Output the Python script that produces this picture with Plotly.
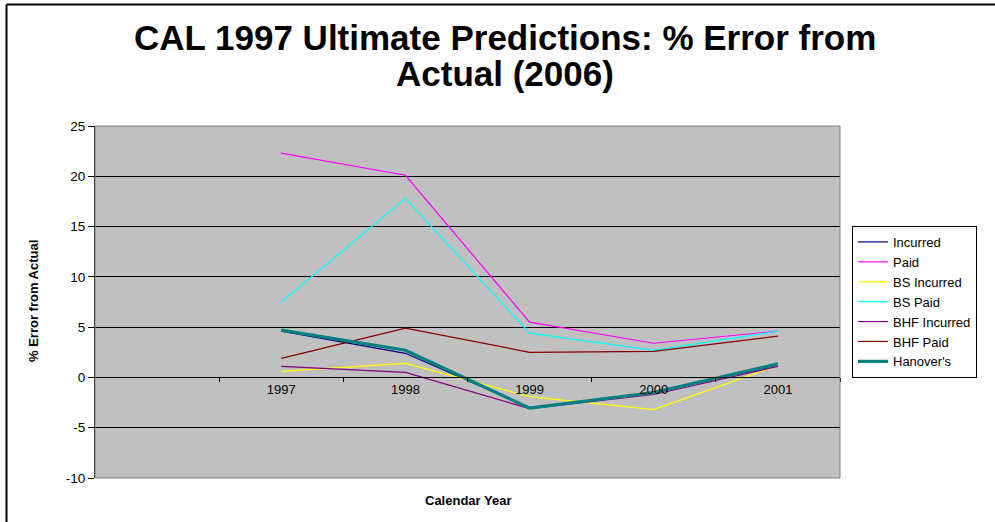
import plotly.graph_objects as go

# Calendar years (the axis range leaves one empty slot before 1997)
years = ["1997", "1998", "1999", "2000", "2001"]

# % error from actual (2006) by prediction method
incurred = [4.6, 2.4, -3.0, -1.5, 1.2]
paid = [22.3, 20.1, 5.5, 3.4, 4.6]
bs_incurred = [0.6, 1.4, -1.9, -3.2, 1.2]
bs_paid = [7.5, 17.8, 4.4, 2.7, 4.6]
bhf_incurred = [1.1, 0.5, -3.1, -1.7, 1.1]
bhf_paid = [1.9, 4.9, 2.5, 2.6, 4.1]
hanovers = [4.7, 2.7, -3.05, -1.5, 1.35]

# y-axis ticks (plain hyphen for negatives)
y_ticks = [-10, -5, 0, 5, 10, 15, 20, 25]
y_tick_labels = [str(v) for v in y_ticks]

series = [
    ("Incurred", incurred, "#000080", 1.2),
    ("Paid", paid, "#FF00FF", 1.2),
    ("BS Incurred", bs_incurred, "#FFFF00", 1.2),
    ("BS Paid", bs_paid, "#00FFFF", 1.2),
    ("BHF Incurred", bhf_incurred, "#800080", 1.2),
    ("BHF Paid", bhf_paid, "#800000", 1.2),
    ("Hanover's", hanovers, "#008080", 3.2),
]

FONT = "Liberation Sans, Arial, sans-serif"

fig = go.Figure()
for name, vals, color, width in series:
    fig.add_trace(go.Scatter(
        x=years, y=vals, name=name, mode="lines",
        line=dict(color=color, width=width),
    ))

W, H = 995, 522
L, R, T, B = 95, 155, 126, 44
pw, ph = W - L - R, H - T - B


def px_x(px):
    return (px - L) / pw


def px_y(py):
    return (H - B - py) / ph


ymin, ymax = -10, 25

fig.update_layout(
    width=W, height=H,
    margin=dict(l=L, r=R, t=T, b=B),
    paper_bgcolor="white",
    plot_bgcolor="#C0C0C0",
    font=dict(family=FONT, size=13, color="black"),
    showlegend=True,
    legend=dict(
        x=px_x(852), y=px_y(226), xanchor="left", yanchor="top",
        bgcolor="white", bordercolor="black", borderwidth=1,
        font=dict(family=FONT, size=13, color="black"),
        tracegroupgap=0,
    ),
    xaxis=dict(
        type="category",
        categoryorder="array", categoryarray=years,
        range=[-1.5, 4.5],
        anchor="free", position=(0 - ymin) / (ymax - ymin),
        showline=True, linecolor="black", linewidth=1,
        showgrid=False, zeroline=False,
        tickson="boundaries", ticks="outside", ticklen=4, tickcolor="black",
        tickfont=dict(family=FONT, size=13, color="black"),
    ),
    yaxis=dict(
        range=[ymin, ymax],
        tickmode="array", tickvals=y_ticks, ticktext=y_tick_labels,
        showline=True, linecolor="black", linewidth=1,
        showgrid=True, gridcolor="black", gridwidth=1,
        zeroline=False,
        ticks="outside", ticklen=6, tickcolor="black",
        tickfont=dict(family=FONT, size=13.5, color="black"),
    ),
    shapes=[
        # plot area border
        dict(type="rect", xref="paper", yref="paper", x0=0, y0=0, x1=1, y1=1,
             line=dict(color="#808080", width=1), layer="above"),
        # outer chart frame (top and left edges)
        dict(type="line", xref="paper", yref="paper",
             x0=px_x(6.5), x1=px_x(W + 5), y0=px_y(4.5), y1=px_y(4.5),
             line=dict(color="black", width=2)),
        dict(type="line", xref="paper", yref="paper",
             x0=px_x(6.5), x1=px_x(6.5), y0=px_y(4.5), y1=px_y(H + 5),
             line=dict(color="black", width=2)),
    ],
    annotations=[
        dict(text="CAL 1997 Ultimate Predictions: % Error from",
             xref="paper", yref="paper", x=px_x(505), y=px_y(37.5),
             xanchor="center", yanchor="middle", showarrow=False,
             font=dict(family=FONT, size=35, color="black", weight="bold")),
        dict(text="Actual (2006)",
             xref="paper", yref="paper", x=px_x(505), y=px_y(73.5),
             xanchor="center", yanchor="middle", showarrow=False,
             font=dict(family=FONT, size=35, color="black", weight="bold")),
        dict(text="Calendar Year",
             xref="paper", yref="paper", x=0.5, y=px_y(500),
             xanchor="center", yanchor="middle", showarrow=False,
             font=dict(family=FONT, size=13, color="black", weight="bold")),
        dict(text="% Error from Actual",
             xref="paper", yref="paper", x=px_x(33), y=px_y(301),
             xanchor="center", yanchor="middle", showarrow=False, textangle=-90,
             font=dict(family=FONT, size=13, color="black", weight="bold")),
    ],
)

fig.write_html("out.html")
